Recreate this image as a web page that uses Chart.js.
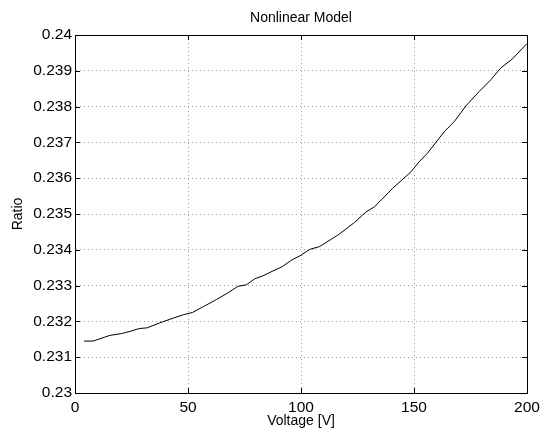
<!DOCTYPE html>
<html lang="en">
<head>
<meta charset="UTF-8">
<title>Nonlinear Model</title>
<script src="https://cdn.jsdelivr.net/npm/chart.js"></script>
<style>
  html, body { margin: 0; padding: 0; background: #fff; }
  #wrap { width: 543px; height: 430px; }
</style>
</head>
<body>
<div id="wrap"><canvas id="chart" width="543" height="430"></canvas></div>
<script>
// values
const voltage = [4, 8, 15.5, 20.6, 24.3, 28.4, 31.9, 37.5, 43.4, 48.1, 52, 56.7, 62.6, 67.7, 72.1, 75.8,
  79.5, 83.1, 87.6, 91.7, 96, 99.5, 103.8, 108.2, 116.3, 123.6, 128.8, 132.5, 140.6, 148.7, 152.3, 156,
  163.4, 167.8, 173, 178.8, 184, 188.4, 193.5, 200];
const ratio = [0.23145, 0.23145, 0.23161, 0.23166, 0.23172, 0.23180, 0.23182, 0.23196, 0.23209, 0.23219,
  0.23225, 0.23241, 0.23261, 0.23280, 0.23298, 0.23302, 0.23319, 0.23327, 0.23341, 0.23353, 0.23372,
  0.23383, 0.23401, 0.23409, 0.23441, 0.23476, 0.23506, 0.23520, 0.23572, 0.23618, 0.23646, 0.23670,
  0.23730, 0.23758, 0.23802, 0.23842, 0.23875, 0.23908, 0.23933, 0.23976];
const xTicks = [0, 50, 100, 150, 200];
const yTicks = [0.23, 0.231, 0.232, 0.233, 0.234, 0.235, 0.236, 0.237, 0.238, 0.239, 0.24];

const FONT = '"Liberation Sans", Arial, Helvetica, sans-serif';

// box around plot area + small inward tick marks (matlab look)
const boxPlugin = {
  id: 'box',
  afterDraw(chart) {
    const { ctx, chartArea: a, scales } = chart;
    const len = 5;
    ctx.save();
    ctx.strokeStyle = '#000';
    ctx.lineWidth = 1;
    ctx.beginPath();
    xTicks.forEach(v => {
      const px = Math.round(scales.x.getPixelForValue(v)) + 0.5;
      ctx.moveTo(px, a.bottom); ctx.lineTo(px, a.bottom - len);
      ctx.moveTo(px, a.top); ctx.lineTo(px, a.top + len);
    });
    yTicks.forEach(v => {
      const py = Math.round(scales.y.getPixelForValue(v)) + 0.5;
      ctx.moveTo(a.left, py); ctx.lineTo(a.left + len, py);
      ctx.moveTo(a.right, py); ctx.lineTo(a.right - len, py);
    });
    ctx.stroke();
    ctx.strokeRect(Math.round(a.left) + 0.5, Math.round(a.top) + 0.5,
      Math.round(a.right - a.left), Math.round(a.bottom - a.top));
    ctx.restore();
  }
};

new Chart(document.getElementById('chart'), {
  type: 'line',
  data: {
    datasets: [{
      data: voltage.map((v, i) => ({ x: v, y: ratio[i] })),
      borderColor: '#000',
      borderWidth: 1,
      pointRadius: 0,
      tension: 0,
      fill: false
    }]
  },
  options: {
    responsive: false,
    animation: false,
    layout: { padding: { top: 0, right: 16, bottom: 0, left: 0 } },
    plugins: {
      legend: { display: false },
      tooltip: { enabled: false },
      title: {
        display: true,
        text: 'Nonlinear Model',
        fullSize: false,
        color: '#000',
        font: { family: FONT, size: 14, weight: 'normal', lineHeight: 1.2 },
        padding: { top: 9.4, bottom: 8.8 }
      }
    },
    scales: {
      x: {
        type: 'linear',
        min: 0,
        max: 200,
        afterBuildTicks: s => { s.ticks = xTicks.map(v => ({ value: v })); },
        afterFit: s => { s.height = 37; s.paddingLeft = 0; s.paddingRight = 0; },
        grid: { color: '#a0a0a0', drawTicks: false, lineWidth: 1 },
        border: { display: true, color: '#000', width: 1, dash: [1, 3] },
        ticks: { color: '#000', padding: 5, font: { family: FONT, size: 15.5 }, maxRotation: 0 },
        title: {
          display: true, text: 'Voltage [V]', color: '#000',
          font: { family: FONT, size: 14, lineHeight: 1.2 },
          padding: { top: 0, bottom: 0 }
        }
      },
      y: {
        min: 0.23,
        max: 0.24,
        afterBuildTicks: s => { s.ticks = yTicks.map(v => ({ value: v })); },
        afterFit: s => { s.width = 75; s.paddingTop = 0; s.paddingBottom = 0; },
        grid: { color: '#a0a0a0', drawTicks: false, lineWidth: 1 },
        border: { display: true, color: '#000', width: 1, dash: [1, 3] },
        ticks: {
          color: '#000', padding: 3, font: { family: FONT, size: 15.5 },
          callback: v => String(+v.toFixed(3))
        },
        title: {
          display: true, text: 'Ratio', color: '#000',
          font: { family: FONT, size: 14, lineHeight: 1.2 },
          padding: { top: 9.6, bottom: 0 }
        }
      }
    }
  },
  plugins: [boxPlugin]
});
</script>
</body>
</html>
